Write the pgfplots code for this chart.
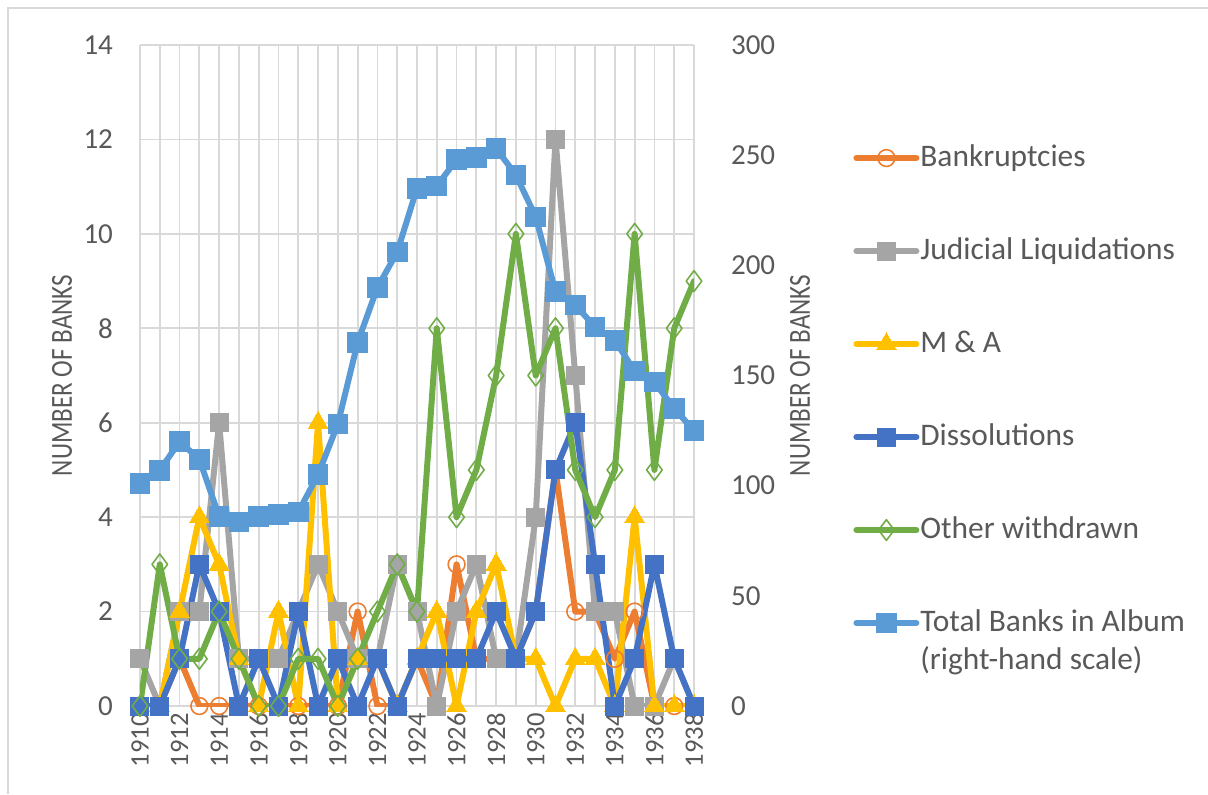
\documentclass[border=0pt]{standalone}
\usepackage{pgfplots}
\usepackage{pgfplotstable}
\pgfplotsset{compat=1.18}
\usepackage{fontspec}
\setmainfont{Carlito}
\newfontfamily\condfont{Carlito}[FakeStretch=0.82]
\definecolor{cB}{HTML}{ED7D31}
\definecolor{cJ}{HTML}{A5A5A5}
\definecolor{cM}{HTML}{FFC000}
\definecolor{cD}{HTML}{4472C4}
\definecolor{cO}{HTML}{70AD47}
\definecolor{cT}{HTML}{5B9BD5}
\definecolor{txt}{HTML}{595959}
\definecolor{grd}{HTML}{D9D9D9}

\pgfplotstableread{
year B J M D O T
1910 0 1 0 0 0 101
1911 0 0 0 0 3 107
1912 1 2 2 1 1 120
1913 0 2 4 3 1 112
1914 0 6 3 2 2 86
1915 0 1 1 0 1 83.5
1916 0 1 0 1 0 86
1917 0 1 2 0 0 87
1918 0 2 0 2 1 88
1919 0 3 6 0 1 105
1920 0 2 0 1 0 128
1921 2 1 1 0 1 165
1922 0 1 1 1 2 190
1923 0 3 0 0 3 206
1924 1 2 1 1 2 235
1925 0 0 2 1 8 236
1926 3 2 0 1 4 248
1927 1 3 2 1 5 249
1928 1 1 3 2 7 253
1929 1 1 1 1 10 241
1930 2 4 1 2 7 222
1931 5 12 0 5 8 188
1932 2 7 1 6 5 182
1933 2 2 1 3 4 172
1934 1 2 0 0 5 166
1935 2 0 4 1 10 152
1936 0 0 0 3 5 147
1937 0 1 0 1 8 135
1938 0 0 0 0 9 125
}\data

\tikzset{
  ylab/.style={at={(axis description cs:#1,0.5)}, anchor=center, rotate=90,
    font=\condfont\fontsize{15.3}{17}\selectfont, text=txt},
}
\pgfplotsset{
  /pgf/number format/assume math mode=true,
  common/.style={
    scale only axis, width=277pt, height=330.5pt,
    xmin=1910, xmax=1938,
    tick style={draw=none},
    axis line style={draw=none},
    yticklabel style={font=\fontsize{14.5}{16}\selectfont, text=txt},
    xticklabel style={font=\fontsize{13.3}{16}\selectfont, text=txt},
  },
  ser/.style={line width=3pt, line join=round, line cap=round},
  sB/.style={ser, color=cB, mark=o, mark size=4.2pt, mark options={solid, line width=0.8pt, fill=none}},
  sJ/.style={ser, color=cJ, mark=square*, mark size=4.5pt, mark options={solid, line width=0pt}},
  sM/.style={ser, color=cM, mark=triangle*, mark size=5.7pt, mark options={solid, line width=0pt}},
  sD/.style={ser, color=cD, mark=square*, mark size=4.5pt, mark options={solid, line width=0pt}},
  sO/.style={ser, color=cO, mark=diamond, mark size=5.2pt, mark options={solid, line width=0.8pt, fill=none}},
  sT/.style={ser, color=cT, mark=square*, mark size=4.9pt, mark options={solid, line width=0pt}},
}

\begin{document}
\begin{tikzpicture}
\useasboundingbox (-70pt,-44pt) rectangle (534pt,353pt);
\draw[grd, line width=0.9pt] (-66pt,-44pt) -- (-66pt,349pt) -- (540pt,349pt);
\begin{axis}[common,
  ymin=0, ymax=14, ytick={0,2,...,14},
  xtick={1910,1912,...,1938}, minor xtick={1911,1913,...,1937},
  grid=both,
  major grid style={draw=grd, line width=0.9pt},
  minor grid style={draw=grd, line width=0.9pt},
  xticklabel style={rotate=90, anchor=east, /pgf/number format/1000 sep={}},
  yticklabel style={xshift=-10pt},
  ylabel={NUMBER OF BANKS},
  every axis y label/.style={ylab=-0.1408},
]
\addplot[sB] table[x=year,y=B]{\data};
\addplot[sJ] table[x=year,y=J]{\data};
\addplot[sM] table[x=year,y=M]{\data};
\addplot[sD] table[x=year,y=D]{\data};
\addplot[sO] table[x=year,y=O]{\data};
\end{axis}
\begin{axis}[common,
  axis x line=none, axis y line*=right,
  ymin=0, ymax=300, ytick={0,50,...,300},
  yticklabel style={anchor=west, xshift=15pt},
  ylabel={NUMBER OF BANKS},
  every axis y label/.style={ylab=1.1913},
  legend cell align=left,
  legend image code/.code={\draw[mark repeat=2,mark phase=2,#1] plot coordinates {(0pt,0pt) (15pt,0pt) (30pt,0pt)};},
  legend style={at={(axis description cs:1.287,0.8523)}, anchor=north west,
    draw=none, fill=none, inner sep=0pt, row sep=31.5pt, column sep=0.5pt,
    font=\fontsize{15.7}{19}\selectfont, text=txt,
    nodes={inner sep=0pt, text height=11.5pt, text depth=3.5pt}},
]
\addlegendimage{sB}
\addlegendimage{sJ}
\addlegendimage{sM}
\addlegendimage{sD}
\addlegendimage{sO}
\addplot[sT] table[x=year,y=T]{\data};
\legend{Bankruptcies, Judicial Liquidations, M \& A, Dissolutions, Other withdrawn,
  {\parbox[t]{150pt}{Total Banks in Album\\(right-hand scale)}}}
\end{axis}
\end{tikzpicture}
\end{document}
